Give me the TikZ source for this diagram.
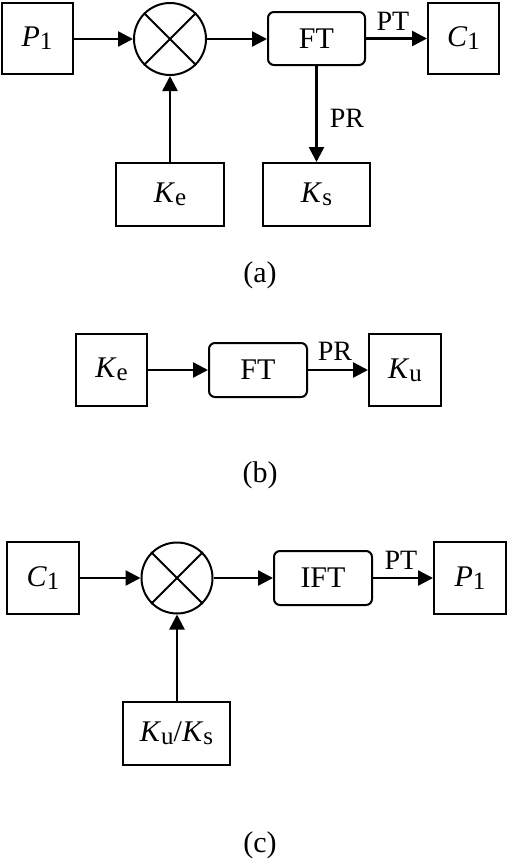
\documentclass[tikz,border=0pt]{standalone}
\usepackage{fontspec}
\setmainfont{Liberation Serif}
\usetikzlibrary{arrows.meta}
\newcommand{\sbs}[1]{\raisebox{-3pt}{\fontsize{25}{25}\selectfont #1}}
\begin{document}
\begin{tikzpicture}[x=1pt,y=-1pt,
  font=\fontsize{30}{32}\selectfont,
  sq/.style={draw, line width=2pt, inner sep=0pt, minimum width=#1},
  sq/.default=71pt,
  rbox/.style={draw, line width=2pt, rounded corners=6pt, inner sep=0pt, minimum width=97pt, minimum height=53pt},
  mult/.style={draw, circle, line width=2pt, inner sep=0pt, minimum size=72pt},
  arr/.style={line width=2.5pt, -{Triangle[length=15pt,width=15pt]}},
  lbl/.style={font=\fontsize{28}{30}\selectfont, inner sep=0pt},
  captxt/.style={font=\fontsize{30}{32}\selectfont, inner sep=0pt}
]
\useasboundingbox (0,0) rectangle (510,863);
% ---------- (a)
\node[sq, minimum height=71pt] (aP) at (37,38.5) {\textit{P}\sbs{1}};
\node[mult] (aM) at (170,39) {};
\draw[line width=2pt] (aM.north west) -- (aM.south east) (aM.north east) -- (aM.south west);
\node[rbox] (aF) at (316.5,38.5) {FT};
\node[sq, minimum height=71pt] (aC) at (463.5,38.5) {\textit{C}\sbs{1}};
\node[sq=108pt, minimum height=63pt] (aKe) at (170,194.5) {\textit{K}\sbs{e}};
\node[sq=107pt, minimum height=63pt] (aKs) at (316.5,194.5) {\textit{K}\sbs{s}};
\draw[arr] (aP.east |- aM.center) -- (aM.west);
\draw[arr] (aM.east) -- (aM.east -| aF.west);
\draw[arr] (aF.east) -- (aC.west);
\draw[arr] (aKe.north) -- (aM.south);
\draw[arr] (aF.south) -- (aKs.north);
\node[lbl] (aPT) at (393,21) {PT};
\node[lbl] (aPR) at (347,118) {PR};
\node[captxt] (capa) at (260,275) {(a)};
% ---------- (b)
\node[sq, minimum height=72pt] (bKe) at (111.5,369.5) {\textit{K}\sbs{e}};
\node[rbox, minimum width=98pt, minimum height=54pt] (bF) at (258,370) {FT};
\node[sq=72pt, minimum height=72pt] (bKu) at (405,370) {\textit{K}\sbs{u}};
\draw[arr] (bKe.east |- bF.center) -- (bF.west);
\draw[arr] (bF.east) -- (bKu.west);
\node[lbl] (bPR) at (335,351) {PR};
\node[captxt] (capb) at (260,475) {(b)};
% ---------- (c)
\node[sq=72pt, minimum height=72pt] (cC) at (43,578) {\textit{C}\sbs{1}};
\node[mult, minimum size=71pt] (cM) at (177,578) {};
\draw[line width=2pt] (cM.north west) -- (cM.south east) (cM.north east) -- (cM.south west);
\node[rbox, minimum width=98pt, minimum height=54pt] (cF) at (323,578) {IFT};
\node[sq=72pt, minimum height=72pt] (cP) at (470,578) {\textit{P}\sbs{1}};
\node[sq=107pt, minimum height=63pt] (cK) at (176.5,733.5) {\textit{K}\sbs{u}/\textit{K}\sbs{s}};
\draw[arr] (cC.east) -- (cM.west);
\draw[arr] (cM.east) -- (cF.west);
\draw[arr] (cF.east) -- (cP.west);
\draw[arr] (cK.north -| cM.south) -- (cM.south);
\node[lbl] (cPT) at (401,560) {PT};
\node[captxt] (capc) at (260,845) {(c)};
\end{tikzpicture}
\end{document}
